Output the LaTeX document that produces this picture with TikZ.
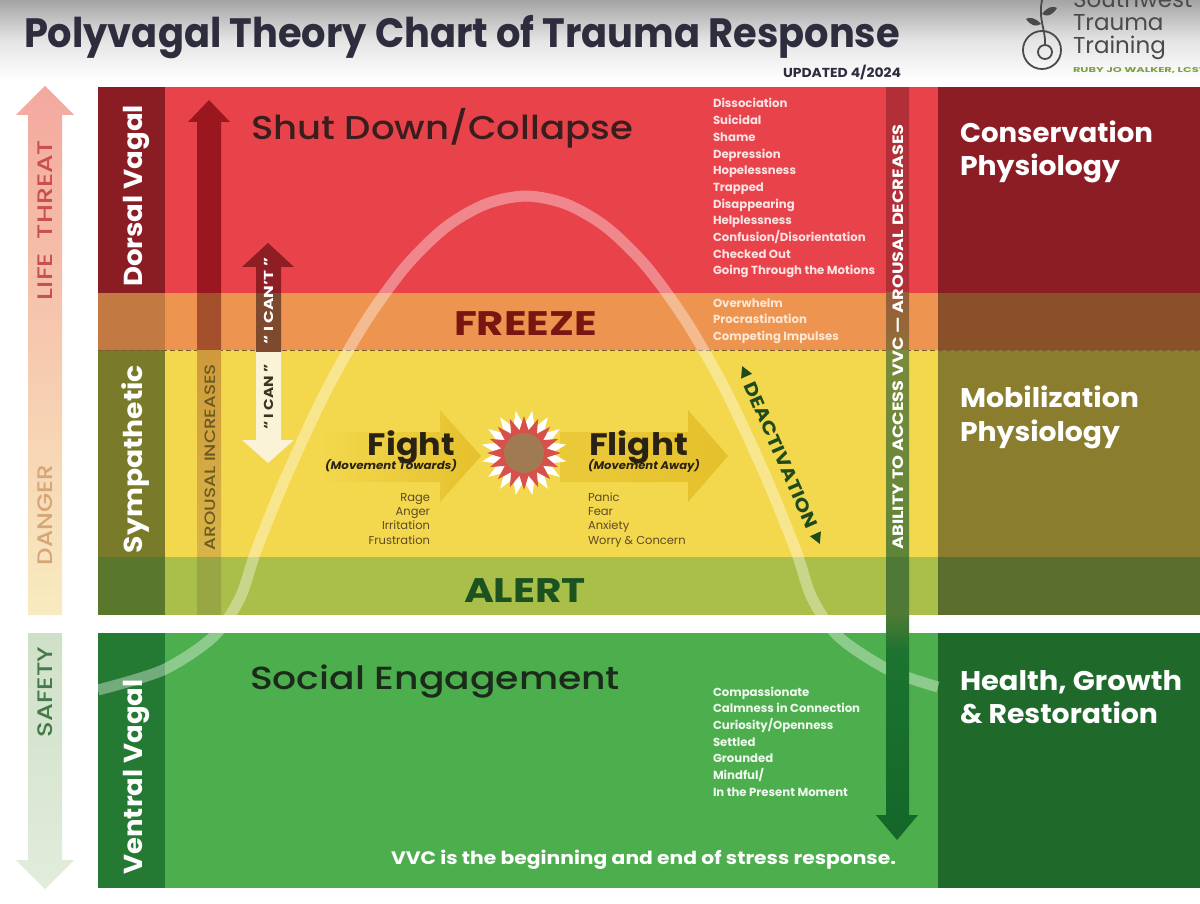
\documentclass[tikz,border=0pt]{standalone}
\usepackage{fontspec}
\setmainfont{Poppins}
\newfontfamily\popmed{Poppins Medium}
\usepackage{graphicx}
\usetikzlibrary{shapes.geometric}
\newcommand\fitw[2]{\resizebox{#1pt}{\height}{#2}}
\newcommand\setfs[1]{\fontsize{#1}{#1}\selectfont}
\definecolor{hdrA}{HTML}{A4A4A4}
\definecolor{hdrB}{HTML}{E4E4E4}
\definecolor{redL}{HTML}{8A1C24}
\definecolor{redM}{HTML}{E8424B}
\definecolor{redR}{HTML}{8C1D25}
\definecolor{orL}{HTML}{C27A42}
\definecolor{orM}{HTML}{EE9451}
\definecolor{orR}{HTML}{8A5029}
\definecolor{yeL}{HTML}{7A7A2B}
\definecolor{yeM}{HTML}{F3D84D}
\definecolor{yeR}{HTML}{8A7D2E}
\definecolor{alL}{HTML}{5A782C}
\definecolor{alM}{HTML}{A9BF4A}
\definecolor{alR}{HTML}{5C6E2D}
\definecolor{grL}{HTML}{247A32}
\definecolor{grM}{HTML}{4CAE4C}
\definecolor{grR}{HTML}{1F6A2B}
\definecolor{ttl}{HTML}{2E2D3D}
\definecolor{ltA}{HTML}{F4A89E}
\definecolor{ltB}{HTML}{F8EBC0}
\definecolor{sfA}{HTML}{CFE0C8}
\definecolor{sfB}{HTML}{E2ECDB}
\definecolor{ltT}{HTML}{C9504E}
\definecolor{dgT}{HTML}{D6A676}
\definecolor{sfT}{HTML}{46794A}
\definecolor{arR}{HTML}{9B1720}
\definecolor{arO}{HTML}{A5502C}
\definecolor{arY}{HTML}{CF9A3C}
\definecolor{arYb}{HTML}{D8B447}
\definecolor{arA}{HTML}{98A643}
\definecolor{arT}{HTML}{6B5A22}
\definecolor{cantR}{HTML}{8E1D24}
\definecolor{cantO}{HTML}{7E4A2E}
\definecolor{canW}{HTML}{FBF3D8}
\definecolor{canT}{HTML}{3A3520}
\definecolor{abR}{HTML}{B32F37}
\definecolor{abO}{HTML}{8F7038}
\definecolor{abY}{HTML}{7A8A3A}
\definecolor{abYb}{HTML}{5F8538}
\definecolor{abA}{HTML}{4E7A35}
\definecolor{abG}{HTML}{1C7430}
\definecolor{abGb}{HTML}{136628}
\definecolor{fA}{HTML}{E5C02C}
\definecolor{starR}{HTML}{D8504A}
\definecolor{starC}{HTML}{A07A52}
\definecolor{shutT}{HTML}{3A1E1E}
\definecolor{frzT}{HTML}{7A1610}
\definecolor{alrT}{HTML}{1B5220}
\definecolor{socT}{HTML}{1C2A1C}
\definecolor{figT}{HTML}{2A2212}
\definecolor{lstD}{HTML}{5C4A28}
\definecolor{lstR}{HTML}{FBE3E3}
\definecolor{lstO}{HTML}{FDE7D2}
\definecolor{lstG}{HTML}{EEF8EE}
\definecolor{dkG}{HTML}{1E4A1C}
\definecolor{dashC}{HTML}{7A5A2A}
\definecolor{logoc}{HTML}{4A4A4A}
\definecolor{rubyT}{HTML}{7CA040}
\begin{document}
\begin{tikzpicture}[x=1pt,y=-1pt,
  lbl/.style={inner sep=0pt,outer sep=0pt},
  curveline/.style={line width=11pt, white, opacity=0.37},
  dashline/.style={dashC, line width=1pt, dash pattern=on 5pt off 3pt},
  logoline/.style={logoc, line width=1.8pt},
  lstred/.style={lbl, anchor=base west, text=lstR, font=\bfseries\setfs{11.7}},
  lstfrz/.style={lbl, anchor=base west, text=lstO, font=\bfseries\setfs{11.7}},
  lstgrn/.style={lbl, anchor=base west, text=lstG, font=\bfseries\setfs{11.7}},
  lstfig/.style={lbl, text=lstD, font=\setfs{11.5}},
  rightlab/.style={lbl, anchor=base west, text=white, font=\bfseries\setfs{27}},
  sidelab/.style={lbl, rotate=90, anchor=base, text=white, font=\bfseries\setfs{26}},
]
\useasboundingbox (0,0) rectangle (1200,904);
\clip (0,0) rectangle (1200,904);
\fill[white] (0,0) rectangle (1200,904);
\shade[top color=hdrA, bottom color=white, middle color=hdrB] (0,0) rectangle (1200,80);

% grid
\fill[redL] (98,87) rectangle (165,293);
\fill[redM] (165,87) rectangle (938,293);
\fill[redR] (938,87) rectangle (1200,293);
\fill[orL] (98,293) rectangle (165,350);
\fill[orM] (165,293) rectangle (938,350);
\fill[orR] (938,293) rectangle (1200,350);
\fill[yeL] (98,350) rectangle (165,557);
\fill[yeM] (165,350) rectangle (938,557);
\fill[yeR] (938,350) rectangle (1200,557);
\fill[alL] (98,557) rectangle (165,615);
\fill[alM] (165,557) rectangle (938,615);
\fill[alR] (938,557) rectangle (1200,615);
\fill[grL] (98,633) rectangle (165,888);
\fill[grM] (165,633) rectangle (938,888);
\fill[grR] (938,633) rectangle (1200,888);
\draw[dashline] (98,350) -- (1200,350);

% bell curve
\draw[curveline] plot[smooth, tension=0.5] coordinates {(98,690) (163,670) (213,637) (240,598) (256,551) (286,477) (326,391) (366,321) (406,266) (446,227) (486,204) (526,196) (566,204) (606,227) (646,266) (686,321) (726,391) (766,477) (796,551) (812,598) (839,637) (889,670) (938,687)};

% left side arrows
\shade[top color=ltA, bottom color=ltB] (28,615) -- (28,115) -- (16,115) -- (45,86) -- (74,115) -- (62,115) -- (62,615) -- cycle;
\shade[top color=sfA, bottom color=sfB] (28,633) -- (28,860) -- (16,860) -- (45,889) -- (74,860) -- (62,860) -- (62,633) -- cycle;
\node[lbl, rotate=90, anchor=base, text=ltT, font=\popmed\setfs{21}] (life) at (52,220) {\fitw{160}{LIFE\ \ THREAT}};
\node[lbl, rotate=90, anchor=base, text=dgT, font=\popmed\setfs{21}] (danger) at (52,515) {\fitw{100}{DANGER}};
\node[lbl, rotate=90, anchor=base, text=sfT, font=\popmed\setfs{21}] (safety) at (52,692) {\fitw{90}{SAFETY}};

% arousal increases arrow
\begin{scope}
\clip (197,615) -- (197,122) -- (188,122) -- (209,100) -- (230,122) -- (221,122) -- (221,615) -- cycle;
\fill[arR] (180,95) rectangle (240,293);
\fill[arO] (180,293) rectangle (240,350);
\shade[top color=arY, bottom color=arYb] (180,350) rectangle (240,557);
\fill[arA] (180,557) rectangle (240,615);
\end{scope}
\node[lbl, rotate=90, anchor=base, text=arT, font=\popmed\setfs{15}] (arousal) at (215,457) {\fitw{186}{AROUSAL INCREASES}};

% I can't / I can
\begin{scope}
\clip (256,352) -- (256,267) -- (242,267) -- (268,243) -- (294,267) -- (281,267) -- (281,352) -- cycle;
\fill[cantR] (230,240) rectangle (300,293);
\fill[cantO] (230,293) rectangle (300,352);
\end{scope}
\fill[canW] (256,352) -- (256,440) -- (242,440) -- (268,463) -- (294,440) -- (281,440) -- (281,352) -- cycle;
\node[lbl, rotate=90, anchor=base, text=white, font=\bfseries\setfs{13}] (icant) at (273,301) {\fitw{87}{``\ I CAN'T\ ''}};
\node[lbl, rotate=90, anchor=base, text=canT, font=\bfseries\setfs{13}] (ican) at (273,397) {\fitw{65}{``\ I CAN\ ''}};

% ability arrow
\begin{scope}
\clip (886,87) -- (886,815) -- (876,815) -- (897,840) -- (918,815) -- (909,815) -- (909,87) -- cycle;
\fill[abR] (870,87) rectangle (925,293);
\shade[top color=abO!70!abR, bottom color=abO] (870,293) rectangle (925,350);
\shade[top color=abY, bottom color=abYb] (870,350) rectangle (925,557);
\fill[abA] (870,557) rectangle (925,615);
\shade[top color=abA, bottom color=abG] (870,615) rectangle (925,650);
\shade[top color=abG, bottom color=abGb] (870,650) rectangle (925,845);
\end{scope}
\node[lbl, rotate=90, anchor=base, text=white, font=\bfseries\setfs{15}] (ability) at (903,337) {\fitw{425}{ABILITY TO ACCESS VVC --- AROUSAL DECREASES}};

% fight / flight arrows
\shade[left color=yeM, right color=fA] (318,432) -- (440,432) -- (440,410) -- (481,456) -- (440,502) -- (440,482) -- (318,482) -- cycle;
\shade[left color=yeM!40!fA, right color=fA] (560,432) -- (688,432) -- (688,410) -- (728,456) -- (688,502) -- (688,482) -- (560,482) -- cycle;

% starburst
\node[star, star points=16, star point ratio=1.55, minimum size=86pt, fill=white, draw=none, shape border rotate=11.25] (burstW) at (524,453) {};
\node[star, star points=16, star point ratio=1.6, minimum size=74pt, fill=starR, draw=none] (burstR) at (524,453) {};
\node[circle, minimum size=40pt, fill=starC, draw=none, inner sep=0pt] (burstC) at (524,453) {};

% titles in middle
\node[lbl, anchor=base west, text=shutT, font=\popmed\setfs{33}] (shut) at (251,140) {\fitw{382}{Shut Down/Collapse}};
\node[lbl, anchor=base west, text=frzT, font=\bfseries\setfs{34}] (freeze) at (454,335) {\fitw{143}{FREEZE}};
\node[lbl, anchor=base west, text=alrT, font=\bfseries\setfs{34}] (alert) at (464,602) {\fitw{122}{ALERT}};
\node[lbl, anchor=base west, text=socT, font=\popmed\setfs{32}] (social) at (250,689) {\fitw{370}{Social Engagement}};
\node[lbl, anchor=base west, text=white, font=\bfseries\setfs{18}] (vvc) at (391,864) {\fitw{505}{VVC is the beginning and end of stress response.}};

\node[lbl, anchor=base east, text=figT, font=\bfseries\setfs{31}] (fight) at (455,455) {\fitw{87}{Fight}};
\node[lbl, anchor=base east, text=figT, font=\bfseries\itshape\setfs{11}] (fightsub) at (457,469) {\fitw{132}{(Movement Towards)}};
\node[lbl, anchor=base west, text=figT, font=\bfseries\setfs{31}] (flight) at (589,455) {\fitw{99}{Flight}};
\node[lbl, anchor=base west, text=figT, font=\bfseries\itshape\setfs{11}] (flightsub) at (588,469) {\fitw{112}{(Movement Away)}};
\foreach \s [count=\i] in {Rage,Anger,Irritation,Frustration}
  \node[lstfig, anchor=base east] (fl\i) at (430,{501+(\i-1)*14.4}) {\s};
\foreach \s [count=\i] in {Panic,Fear,Anxiety,Worry \& Concern}
  \node[lstfig, anchor=base west] (gl\i) at (588,{501+(\i-1)*14.4}) {\s};

% deactivation
\node[lbl, rotate=-66.4, text=dkG, font=\bfseries\setfs{18}] (deact) at (781,455) {\fitw{157}{DEACTIVATION}};
\begin{scope}[shift={(781,455)}, rotate=-66.4]
\fill[dkG] (-86,-6) -- (-86,6) -- (-97,0) -- cycle;
\fill[dkG] (86,-6) -- (86,6) -- (97,0) -- cycle;
\end{scope}

% lists
\foreach \s [count=\i] in {Dissociation,Suicidal,Shame,Depression,Hopelessness,Trapped,Disappearing,Helplessness,Confusion/Disorientation,Checked Out,Going Through the Motions}
  \node[lstred] (dv\i) at (713,{108+(\i-1)*16.7}) {\s};
\foreach \s [count=\i] in {Overwhelm,Procrastination,Competing Impulses}
  \node[lstfrz] (fz\i) at (713,{307+(\i-1)*16.7}) {\s};
\foreach \s [count=\i] in {Compassionate,Calmness in Connection,Curiosity/Openness,Settled,Grounded,Mindful/,In the Present Moment}
  \node[lstgrn] (vv\i) at (713,{696+(\i-1)*16.7}) {\s};

% side labels
\node[sidelab] (dorsal) at (142,196) {\fitw{182}{Dorsal Vagal}};
\node[sidelab] (symp) at (142,459) {\fitw{188}{Sympathetic}};
\node[sidelab] (ventral) at (142,777) {\fitw{195}{Ventral Vagal}};

% right labels
\node[rightlab] (cons1) at (960,143) {\fitw{193}{Conservation}};
\node[rightlab] (cons2) at (960,176) {\fitw{160}{Physiology}};
\node[rightlab] (mob1) at (960,407) {\fitw{179}{Mobilization}};
\node[rightlab] (mob2) at (960,441) {\fitw{160}{Physiology}};
\node[rightlab] (hea1) at (960,690) {\fitw{222}{Health, Growth}};
\node[rightlab] (hea2) at (960,723) {\fitw{198}{\& Restoration}};

% header
\node[lbl, anchor=base west, text=ttl, font=\bfseries\setfs{41}] (title) at (24,48) {\fitw{876}{Polyvagal Theory Chart of Trauma Response}};
\node[lbl, anchor=base east, text=ttl, font=\bfseries\setfs{13}] (upd) at (901,78) {\fitw{118}{UPDATED 4/2024}};

% logo
\draw[logoline] (1042,50) circle (19);
\draw[logoline] (1045,52) circle (7);
\draw[logoline] (1045,45) .. controls (1046,30) and (1038,20) .. (1042,0);
\fill[logoc] (1042,14) .. controls (1048,6) and (1054,6) .. (1057,8) .. controls (1052,16) and (1047,17) .. (1042,14) -- cycle;
\fill[logoc] (1041,24) .. controls (1035,17) and (1029,17) .. (1026,19) .. controls (1031,26) and (1036,27) .. (1041,24) -- cycle;
\node[lbl, anchor=base west, text=logoc, font=\setfs{23}] (sw) at (1073,8) {Southwest};
\node[lbl, anchor=base west, text=logoc, font=\setfs{23}] (tr) at (1073,31) {Trauma};
\node[lbl, anchor=base west, text=logoc, font=\setfs{23}] (trn) at (1073,54) {Training};
\node[lbl, anchor=base west, text=rubyT, font=\bfseries\setfs{7}] (ruby) at (1073,73) {\fitw{138}{RUBY JO WALKER, LCSW}};
\end{tikzpicture}
\end{document}
